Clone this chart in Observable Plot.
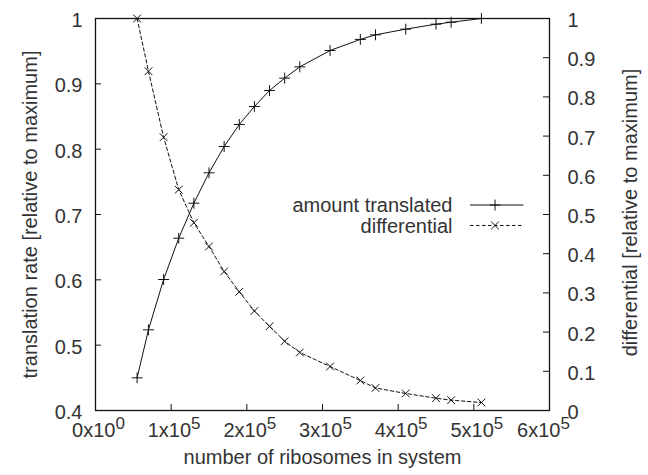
<!DOCTYPE html>
<html><head><meta charset="utf-8">
<script src="https://cdn.jsdelivr.net/npm/d3@7"></script>
<script src="https://cdn.jsdelivr.net/npm/@observablehq/plot@0.6"></script>
<style>body{margin:0;background:#fff}#chart svg{display:block}</style>
</head><body><div id="chart"></div>
<script>
// ---- data ----
const ribosomes = [55000,70000,90000,110000,130000,150000,170000,190000,210000,230000,250000,270000,310000,350000,370000,410000,450000,470000,510000];
const amountTranslated = [0.450,0.5235,0.6005,0.6637,0.7173,0.7638,0.8040,0.8378,0.8653,0.8898,0.9087,0.9260,0.9510,0.9680,0.9750,0.9837,0.9913,0.9943,1.0];
const differential = [1.0,0.8656,0.6972,0.5633,0.4788,0.4184,0.3546,0.3028,0.2538,0.2148,0.1768,0.1480,0.1122,0.0765,0.0574,0.0434,0.0314,0.0263,0.0204];
const xTicks = [0,100000,200000,300000,400000,500000,600000];
const leftTicks = [0.4,0.5,0.6,0.7,0.8,0.9,1.0];
const rightTicks = [0,0.1,0.2,0.3,0.4,0.5,0.6,0.7,0.8,0.9,1.0];
const seriesNames = ["amount translated","differential"];
const xLabel = "number of ribosomes in system";
const yLeftLabel = "translation rate [relative to maximum]";
const yRightLabel = "differential [relative to maximum]";

// ---- layout ----
const W = 648, H = 475, mL = 95, mR = 99, mT = 18, mB = 65;
const fw = W - mL - mR, fh = H - mT - mB;
const yMin = 0.4, yMax = 1.0;
const toLeft = v => yMin + (yMax - yMin) * v;   // right-axis value -> left scale
const font = "Liberation Sans, Arial, Helvetica, sans-serif";
const fs = 20, ink = "#111", txt = "#333";
const dash = "3.5,2.5";
const legend = {textX: 471800, lineX1: 495600, lineX2: 566000, markX: 528000, rows: [0.7145, 0.6832]};

const data = ribosomes.map((x, i) => ({x, a: amountTranslated[i], d: toLeft(differential[i])}));
const legendData = seriesNames.map((name, i) => ({name, y: legend.rows[i], i}));

const fmt = v => String(+v.toFixed(1));

const plot = Plot.plot({
  width: W, height: H,
  marginLeft: mL, marginRight: mR, marginTop: mT, marginBottom: mB,
  style: {fontFamily: font, fontSize: fs + "px", color: txt, background: "#fff"},
  x: {domain: [0, 600000], axis: null},
  y: {domain: [yMin, yMax], axis: null},
  marks: [
    // inward ticks
    Plot.ruleY(leftTicks, {y: d => d, insetRight: fw - 6, stroke: ink, strokeWidth: 1}),
    Plot.ruleY(rightTicks.map(toLeft), {y: d => d, insetLeft: fw - 6, stroke: ink, strokeWidth: 1}),
    Plot.ruleX(xTicks, {x: d => d, insetTop: fh - 6, stroke: ink, strokeWidth: 1}),
    // tick labels
    Plot.axisY(leftTicks, {anchor: "left", tickSize: 0, tickPadding: 13, tickFormat: fmt, label: null, fontSize: fs, fill: txt, dy: 2}),
    Plot.axisY(rightTicks.map(toLeft), {anchor: "right", tickSize: 0, tickPadding: 18, tickFormat: d => fmt((d - yMin) / (yMax - yMin)), label: null, fontSize: fs, fill: txt, dy: 2}),
    Plot.axisX(xTicks, {anchor: "bottom", tickSize: 0, tickPadding: 12, tickFormat: d => `${d / 100000}x10|${d === 0 ? 0 : 5}`, label: null, fontSize: fs, fill: txt, dx: 3}),
    // axis titles
    Plot.text([xLabel], {text: d => d, frameAnchor: "bottom", dy: 53.5, fontSize: fs, fill: txt}),
    Plot.text([yLeftLabel], {text: d => d, frameAnchor: "left", textAnchor: "middle", dx: -65, rotate: -90, fontSize: fs, fill: txt}),
    Plot.text([yRightLabel], {text: d => d, frameAnchor: "right", textAnchor: "middle", dx: 81, dy: -2, rotate: -90, fontSize: fs, fill: txt}),
    // series
    Plot.line(data, {x: "x", y: "a", stroke: ink, strokeWidth: 1}),
    Plot.dot(data, {x: "x", y: "a", symbol: "plus", r: 3.6, stroke: ink, strokeWidth: 1}),
    Plot.line(data, {x: "x", y: "d", stroke: ink, strokeWidth: 1, strokeDasharray: dash}),
    Plot.dot(data, {x: "x", y: "d", symbol: "times", r: 3.6, stroke: ink, strokeWidth: 1}),
    // legend
    Plot.text(legendData, {x: legend.textX, y: "y", text: "name", textAnchor: "end", fontSize: fs, fill: txt, dy: 1}),
    Plot.ruleY(legendData.filter(d => d.i === 0), {y: "y", x1: legend.lineX1, x2: legend.lineX2, stroke: ink, strokeWidth: 1}),
    Plot.ruleY(legendData.filter(d => d.i === 1), {y: "y", x1: legend.lineX1, x2: legend.lineX2, stroke: ink, strokeWidth: 1, strokeDasharray: dash}),
    Plot.dot(legendData, {x: legend.markX, y: "y", symbol: d => d.i === 0 ? "plus" : "times", r: 3.6, stroke: ink, strokeWidth: 1}),
    Plot.frame({stroke: ink, strokeWidth: 1.3})
  ]
});

// superscript exponents on x tick labels
const xl = d3.select(plot).selectAll('g[aria-label="x-axis tick label"] text').nodes();
xl.forEach((node, k) => {
  const [base, exp] = node.textContent.split("|");
  if (exp === undefined) return;
  node.textContent = base;
  const t = document.createElementNS("http://www.w3.org/2000/svg", "tspan");
  t.setAttribute("dy", "-8");
  t.setAttribute("font-size", "17");
  t.textContent = exp;
  node.appendChild(t);
  if (k === xl.length - 1) node.setAttribute("dx", "-9"); // last label pulled inside, as in the original
});

document.getElementById("chart").appendChild(plot);
</script>
</body></html>
